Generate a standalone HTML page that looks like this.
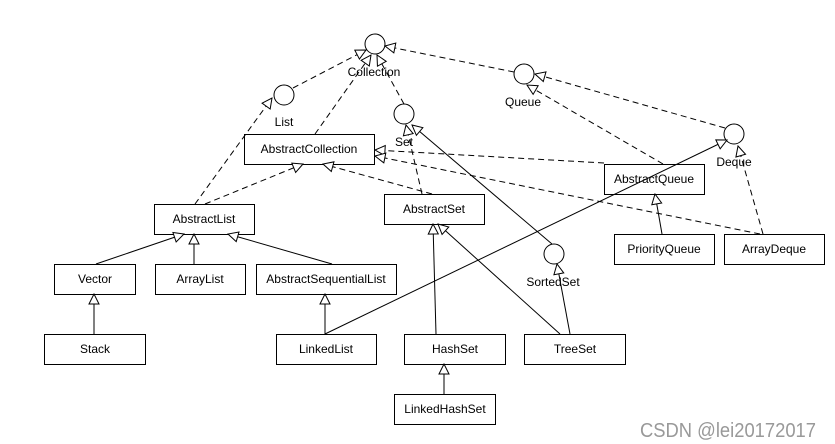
<!DOCTYPE html>
<html><head><meta charset="utf-8"><style>
html,body{margin:0;padding:0;background:#fff;}
svg{display:block;}
text{font-family:"Liberation Sans",sans-serif;font-size:12px;fill:#000;}
</style></head><body>
<svg width="835" height="444" viewBox="0 0 835 444" xmlns="http://www.w3.org/2000/svg">
<defs>
<marker id="a" markerWidth="12" markerHeight="12" refX="11" refY="6" orient="auto" markerUnits="userSpaceOnUse">
<path d="M1,1 L11,6 L1,11 Z" fill="#fff" stroke="#000" stroke-width="1"/>
</marker>
</defs>
<g stroke="#000" stroke-width="1" fill="none">
<!-- boxes -->
<g fill="#fff">
<rect x="244.5" y="134.5" width="130" height="30"/>
<rect x="154.5" y="204.5" width="100" height="30"/>
<rect x="384.5" y="194.5" width="100" height="30"/>
<rect x="604.5" y="164.5" width="100" height="30"/>
<rect x="614.5" y="234.5" width="100" height="30"/>
<rect x="724.5" y="234.5" width="100" height="30"/>
<rect x="54.5" y="264.5" width="81" height="30"/>
<rect x="155.5" y="264.5" width="90" height="30"/>
<rect x="256.5" y="264.5" width="140" height="30"/>
<rect x="44.5" y="334.5" width="101" height="30"/>
<rect x="276.5" y="334.5" width="100" height="30"/>
<rect x="404.5" y="334.5" width="101" height="30"/>
<rect x="524.5" y="334.5" width="101" height="30"/>
<rect x="394.5" y="394.5" width="101" height="30"/>
</g>
<!-- circles -->
<g fill="#fff">
<circle cx="375" cy="44" r="10"/>
<circle cx="284" cy="95" r="10"/>
<circle cx="404" cy="114" r="10"/>
<circle cx="524" cy="74" r="10"/>
<circle cx="734" cy="134" r="10"/>
<circle cx="554" cy="254" r="10"/>
</g>
<!-- dashed -->
<g stroke-dasharray="6,4" marker-end="url(#a)">
<line x1="293" y1="88" x2="366" y2="50"/>
<line x1="315" y1="134" x2="371" y2="55"/>
<line x1="404" y1="104" x2="377" y2="55"/>
<line x1="514" y1="72" x2="385" y2="46"/>
<line x1="725" y1="128" x2="535" y2="74"/>
<line x1="663" y1="164" x2="527" y2="85"/>
<line x1="604" y1="163" x2="375" y2="150"/>
<line x1="760" y1="234" x2="375" y2="156"/>
<line x1="763" y1="234" x2="738" y2="146"/>
<line x1="195" y1="204" x2="272" y2="98"/>
<line x1="205" y1="204" x2="303" y2="164"/>
<line x1="432" y1="194" x2="323" y2="164"/>
<line x1="422" y1="194" x2="406" y2="125"/>
</g>
<g marker-end="url(#a)">
<line x1="552" y1="244" x2="412" y2="125"/>
<line x1="570" y1="334" x2="557" y2="264"/>
<line x1="560" y1="334" x2="438" y2="224"/>
<line x1="436" y1="334" x2="433" y2="224"/>
<line x1="444" y1="394" x2="444" y2="364"/>
<line x1="325" y1="334" x2="727" y2="140"/>
<line x1="325" y1="334" x2="325" y2="294"/>
<line x1="94" y1="334" x2="94" y2="294"/>
<line x1="96" y1="264" x2="184" y2="234"/>
<line x1="194" y1="264" x2="194" y2="234"/>
<line x1="332" y1="264" x2="228" y2="234"/>
<line x1="662" y1="234" x2="655" y2="194"/>
</g>
</g>
<g text-anchor="middle">
<text x="374" y="76">Collection</text>
<text x="284" y="126">List</text>
<text x="404" y="146">Set</text>
<text x="523" y="106">Queue</text>
<text x="734" y="166">Deque</text>
<text x="553" y="286">SortedSet</text>
<text x="309" y="153">AbstractCollection</text>
<text x="204" y="223">AbstractList</text>
<text x="434" y="213">AbstractSet</text>
<text x="654" y="183">AbstractQueue</text>
<text x="664" y="253">PriorityQueue</text>
<text x="774" y="253">ArrayDeque</text>
<text x="95" y="283">Vector</text>
<text x="200" y="283">ArrayList</text>
<text x="326" y="283">AbstractSequentialList</text>
<text x="95" y="353">Stack</text>
<text x="326" y="353">LinkedList</text>
<text x="455" y="353">HashSet</text>
<text x="575" y="353">TreeSet</text>
<text x="445" y="413">LinkedHashSet</text>
</g>
<text x="640" y="437" style="font-size:20px;fill:#999" textLength="176" lengthAdjust="spacingAndGlyphs">CSDN @lei20172017</text>
</svg>
</body></html>
